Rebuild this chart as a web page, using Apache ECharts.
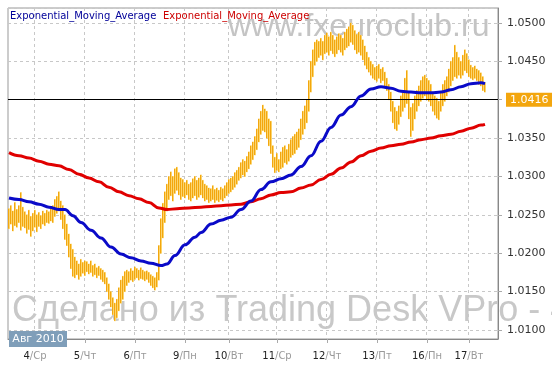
<!DOCTYPE html>
<html><head><meta charset="utf-8">
<script src="https://cdn.jsdelivr.net/npm/echarts@6/dist/echarts.min.js"></script>
<style>html,body{margin:0;padding:0;background:#fff}#c{width:552px;height:369px}</style>
</head><body><div id="c"></div><script>
const dayLabels = ['4/Ср','5/Чт','6/Пт','9/Пн','10/Вт','11/Ср','12/Чт','13/Пт','16/Пн','17/Вт'];
const dayStartSlot = [13,38,63,88,110,134,159,184,209,230];
const slotCount = 245;
const lastPrice = 1.0416;

const priceLow = [
1.0232,1.0238,1.0229,1.0236,1.0234,1.0240,1.0230,1.0235,1.0233,1.0226,
1.0231,1.0222,1.0229,1.0234,1.0228,1.0235,1.0232,1.0238,1.0236,1.0240,
1.0239,1.0242,1.0240,1.0248,1.0252,1.0255,1.0244,
1.0232,1.0218,1.0210,1.0195,1.0180,1.0170,1.0168,1.0172,1.0166,1.0170,
1.0174,1.0171,1.0176,1.0173,1.0175,1.0170,1.0172,1.0168,1.0171,1.0166,
1.0163,1.0160,1.0150,1.0140,1.0130,1.0120,1.0112,1.0116,1.0125,1.0135,
1.0140,1.0150,1.0158,1.0162,1.0165,1.0163,1.0166,1.0168,1.0165,1.0167,
1.0166,1.0164,1.0166,1.0162,1.0158,1.0155,1.0152,1.0156,1.0165,1.0200,
1.0220,1.0240,1.0255,1.0270,1.0275,1.0268,1.0278,1.0282,1.0276,1.0270,
1.0274,1.0272,1.0276,1.0270,1.0268,1.0272,1.0275,1.0270,1.0273,
1.0276,1.0272,1.0268,1.0270,1.0266,1.0268,1.0270,1.0266,1.0269,1.0267,
1.0270,1.0268,1.0272,1.0275,1.0278,1.0280,1.0283,1.0286,1.0290,1.0295,
1.0298,1.0302,1.0300,1.0306,1.0310,1.0316,1.0322,1.0328,1.0335,1.0345,
1.0355,1.0360,1.0358,1.0350,1.0340,1.0330,1.0312,1.0305,1.0308,1.0306,
1.0310,1.0312,1.0318,1.0316,1.0320,1.0325,1.0328,1.0330,1.0335,1.0338,
1.0348,1.0355,1.0362,1.0370,1.0385,
1.0410,1.0430,1.0445,1.0450,1.0455,1.0458,1.0452,1.0460,1.0462,1.0458,
1.0464,1.0460,1.0456,1.0460,1.0465,1.0462,1.0458,1.0465,1.0468,1.0470,
1.0475,1.0472,1.0465,1.0460,1.0462,1.0458,1.0452,1.0445,1.0440,1.0436,
1.0432,1.0428,1.0426,1.0424,1.0428,1.0422,1.0425,1.0418,1.0412,1.0400,
1.0385,1.0370,1.0362,
1.0360,1.0368,1.0378,1.0385,1.0390,1.0395,1.0375,1.0352,1.0360,1.0375,
1.0385,1.0392,1.0398,1.0402,1.0405,1.0400,1.0398,1.0392,1.0385,1.0380,
1.0376,1.0374,1.0385,1.0392,1.0398,1.0405,1.0410,1.0418,1.0425,1.0430,
1.0428,1.0432,1.0428,1.0432,1.0438,1.0435,1.0430,1.0428,1.0426,1.0428,
1.0425,1.0420,1.0418,1.0412,1.0410
];
const priceHigh = [
1.0258,1.0262,1.0255,1.0266,1.0257,1.0262,1.0279,1.0260,1.0254,1.0250,
1.0256,1.0248,1.0252,1.0256,1.0250,1.0253,1.0249,1.0255,1.0252,1.0256,
1.0254,1.0258,1.0262,1.0270,1.0274,1.0280,1.0268,
1.0262,1.0250,1.0238,1.0225,1.0212,1.0205,1.0195,1.0190,1.0186,1.0192,
1.0188,1.0190,1.0189,1.0186,1.0190,1.0184,1.0186,1.0181,1.0183,1.0180,
1.0178,1.0175,1.0168,1.0160,1.0150,1.0142,1.0135,1.0140,1.0155,1.0165,
1.0170,1.0176,1.0178,1.0176,1.0180,1.0177,1.0182,1.0180,1.0178,1.0181,
1.0178,1.0176,1.0177,1.0175,1.0172,1.0170,1.0168,1.0175,1.0210,1.0245,
1.0265,1.0280,1.0290,1.0300,1.0306,1.0300,1.0310,1.0312,1.0305,1.0298,
1.0296,1.0292,1.0295,1.0290,1.0292,1.0297,1.0300,1.0295,1.0298,
1.0302,1.0295,1.0290,1.0288,1.0285,1.0284,1.0288,1.0283,1.0285,1.0282,
1.0286,1.0284,1.0288,1.0292,1.0296,1.0298,1.0300,1.0305,1.0308,1.0312,
1.0318,1.0322,1.0320,1.0326,1.0332,1.0340,1.0345,1.0352,1.0362,1.0375,
1.0385,1.0393,1.0388,1.0385,1.0375,1.0372,1.0340,1.0325,1.0330,1.0322,
1.0332,1.0338,1.0340,1.0335,1.0342,1.0348,1.0352,1.0355,1.0358,1.0362,
1.0375,1.0385,1.0392,1.0400,1.0425,
1.0450,1.0465,1.0475,1.0478,1.0476,1.0480,1.0476,1.0484,1.0487,1.0482,
1.0488,1.0484,1.0478,1.0482,1.0486,1.0484,1.0480,1.0488,1.0492,1.0495,
1.0500,1.0497,1.0490,1.0485,1.0488,1.0484,1.0478,1.0470,1.0462,1.0455,
1.0450,1.0446,1.0442,1.0444,1.0446,1.0440,1.0442,1.0436,1.0428,1.0420,
1.0410,1.0398,1.0390,
1.0385,1.0392,1.0405,1.0412,1.0428,1.0438,1.0410,1.0390,1.0395,1.0405,
1.0412,1.0418,1.0425,1.0430,1.0432,1.0428,1.0425,1.0420,1.0410,1.0405,
1.0402,1.0398,1.0410,1.0420,1.0425,1.0430,1.0440,1.0450,1.0455,1.0471,
1.0462,1.0455,1.0450,1.0458,1.0465,1.0460,1.0452,1.0445,1.0442,1.0444,
1.0440,1.0438,1.0435,1.0430,1.0422
];
// [slot, value]
const emaFast = [
[0,1.0272],[5,1.0270],[10,1.0267],[15,1.0264],[20,1.0260],[25,1.0257],[28,1.0257],
[32,1.0249],[36,1.0240],[41,1.0230],[46,1.0220],[51,1.0208],[56,1.0199],[61,1.0194],
[66,1.0190],[71,1.0187],[76,1.0184],[79,1.0186],[83,1.0197],[88,1.0211],[93,1.0221],
[96,1.0227],[101,1.0238],[106,1.0243],[111,1.0247],[116,1.0257],[121,1.0268],[126,1.0283],
[131,1.0293],[136,1.0297],[141,1.0302],[146,1.0313],[151,1.0327],[156,1.0346],[161,1.0364],
[166,1.0380],[171,1.0391],[176,1.0405],[181,1.0414],[186,1.0417],[191,1.0415],[196,1.0411],
[201,1.0410],[206,1.0409],[211,1.0409],[216,1.0410],[221,1.0413],[226,1.0417],[231,1.0421],
[236,1.0422],[238,1.0421]
];
const emaSlow = [
[0,1.0331],[5,1.0327],[10,1.0324],[15,1.0320],[20,1.0316],[25,1.0314],[30,1.0309],
[35,1.0303],[40,1.0298],[45,1.0293],[50,1.0286],[55,1.0280],[60,1.0275],[65,1.0271],
[70,1.0266],[75,1.0259],[79,1.0257],[84,1.0258],[90,1.0259],[96,1.0260],[101,1.0261],
[106,1.0262],[111,1.0263],[116,1.0264],[121,1.0267],[126,1.0271],[131,1.0276],[136,1.0279],
[141,1.0280],[146,1.0285],[151,1.0289],[156,1.0296],[161,1.0303],[166,1.0311],[171,1.0319],
[176,1.0327],[181,1.0333],[186,1.0337],[191,1.0340],[196,1.0342],[201,1.0345],[206,1.0348],
[211,1.0350],[216,1.0353],[221,1.0355],[226,1.0359],[231,1.0363],[236,1.0367],[238,1.0368]
];

const slots = Array.from({length: slotCount}, (_, i) => {
  const k = dayStartSlot.indexOf(i);
  return k >= 0 ? dayLabels[k] : 's' + i;
});
const isDay = (i) => dayStartSlot.indexOf(i) >= 0;
const priceData = priceLow.map((lo, i) => [lo, priceHigh[i], lo, priceHigh[i]]);

const chart = echarts.init(document.getElementById('c'), null, {renderer: 'canvas'});
const gridColor = '#c8c8c8';
const orange = '#f3a60e';
const halo = '#fbd56e';
chart.setOption({
  animation: false,
  backgroundColor: '#fff',
  grid: {left: 8, right: 54, top: 8, bottom: 30, show: true, borderColor: '#999', borderWidth: 1, outerBoundsMode: 'none', containLabel: false},
  xAxis: {
    type: 'category', data: slots, boundaryGap: true,
    axisLine: {show: true, lineStyle: {color: '#888'}},
    axisTick: {show: true, alignWithLabel: true, interval: (i) => isDay(i), length: 4, lineStyle: {color: '#aaa'}},
    splitLine: {show: true, interval: (i) => isDay(i), lineStyle: {color: gridColor, type: [3, 3]}},
    axisLabel: {
      interval: (i) => isDay(i), margin: 11,
      formatter: (v) => { const p = v.split('/'); return '{d|' + p[0] + '}{w|/' + p[1] + '}'; },
      rich: {
        d: {fontFamily: 'DejaVu Sans', fontSize: 10, color: '#222', lineHeight: 12},
        w: {fontFamily: 'DejaVu Sans', fontSize: 10, color: '#999', lineHeight: 12}
      }
    }
  },
  yAxis: {
    type: 'value', position: 'right', min: 1.008827, max: 1.051954, splitNumber: 8, scale: true,
    axisLine: {show: true, lineStyle: {color: '#888'}},
    axisTick: {show: true, length: 4, lineStyle: {color: '#aaa'}},
    splitLine: {show: true, lineStyle: {color: gridColor, type: [3, 3]}},
    axisLabel: {showMinLabel: false, showMaxLabel: false, margin: 9, fontFamily: 'DejaVu Sans', fontSize: 11, color: '#333',
      formatter: (v) => v.toFixed(4)}
  },
  series: [
    {type: 'candlestick', name: 'priceHalo', data: priceData, barWidth: 2, silent: true, z: 2,
      itemStyle: {color: halo, color0: halo, borderColor: halo, borderColor0: halo, borderWidth: 1}},
    {type: 'candlestick', name: 'price', data: priceData, barWidth: 1, silent: true, z: 3,
      itemStyle: {color: orange, color0: orange, borderColor: orange, borderColor0: orange, borderWidth: 1},
      markLine: {silent: true, symbol: ['none', 'none'], animation: false,
        lineStyle: {color: '#000', width: 1, type: 'solid'},
        label: {show: true, position: 'end', distance: 8, formatter: () => lastPrice.toFixed(4),
          backgroundColor: orange, color: '#fff', fontFamily: 'DejaVu Sans', fontSize: 11, lineHeight: 12, padding: [1, 4, 1, 4]},
        data: [{yAxis: lastPrice}]}
    },
    {type: 'line', name: 'emaSlow', data: emaSlow, showSymbol: false, symbol: 'none', smooth: 0.4, smoothMonotone: 'x', z: 4,
      lineStyle: {color: '#e00000', width: 3}},
    {type: 'line', name: 'emaFast', data: emaFast, showSymbol: false, symbol: 'none', smooth: 0.4, smoothMonotone: 'x', z: 5,
      lineStyle: {color: '#0a0ac8', width: 3}}
  ],
  graphic: [
    {type: 'text', x: 228, y: 27, z: 1, silent: true, style: {text: 'www.fxeuroclub.ru', font: '32px "Liberation Sans"', fill: '#c4c4c4', verticalAlign: 'middle'}},
    {type: 'text', x: 12, y: 311, z: 1, silent: true, style: {text: 'Сделано из Trading Desk VPro - 4', font: '36px "Liberation Sans"', fill: '#c8c8c8', verticalAlign: 'middle'}},
    {type: 'text', x: 10, y: 16.5, z: 100, silent: true, style: {text: 'Exponential_Moving_Average', font: '10px "DejaVu Sans"', fill: '#000099', verticalAlign: 'middle'}},
    {type: 'text', x: 163, y: 16.5, z: 100, silent: true, style: {text: 'Exponential_Moving_Average', font: '10px "DejaVu Sans"', fill: '#cc0000', verticalAlign: 'middle'}},
    {type: 'rect', x: 9, y: 331, z: 100, silent: true, shape: {width: 58, height: 16}, style: {fill: '#7f9eb9'}},
    {type: 'text', x: 38, y: 339.5, z: 101, silent: true, style: {text: 'Авг 2010', font: '11px "DejaVu Sans"', fill: '#fff', align: 'center', verticalAlign: 'middle'}}
  ]
});
</script></body></html>
